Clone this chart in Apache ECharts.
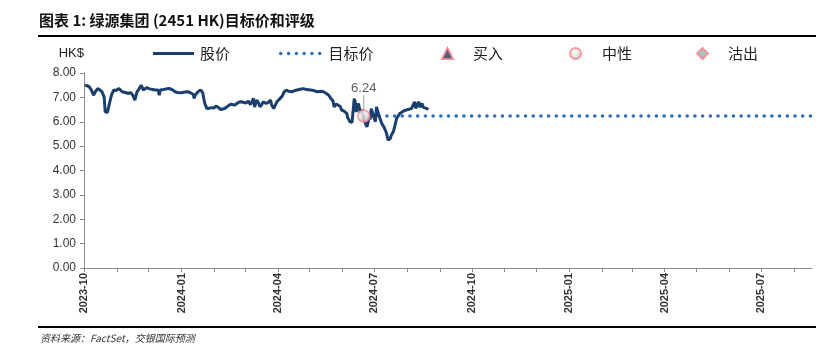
<!DOCTYPE html>
<html><head><meta charset="utf-8">
<script src="https://cdn.jsdelivr.net/npm/echarts@6/dist/echarts.min.js"></script>
<style>html,body{margin:0;padding:0;background:#fff}#c{width:824px;height:355px}</style>
</head><body><div id="c"></div>
<script>
// ---- data ----
const priceDates = [
'2023-10-02','2023-10-04','2023-10-06','2023-10-08','2023-10-10','2023-10-12','2023-10-14','2023-10-16','2023-10-18','2023-10-20',
'2023-10-21','2023-10-23','2023-10-24','2023-10-25','2023-10-27','2023-10-29','2023-10-31','2023-11-03','2023-11-04','2023-11-06',
'2023-11-09','2023-11-12','2023-11-14','2023-11-16','2023-11-17','2023-11-18','2023-11-20','2023-11-22','2023-11-24','2023-11-25',
'2023-11-26','2023-11-29','2023-12-02','2023-12-05','2023-12-07','2023-12-10','2023-12-11','2023-12-12','2023-12-15','2023-12-18',
'2023-12-21','2023-12-24','2023-12-26','2023-12-28','2024-01-01','2024-01-04','2024-01-07','2024-01-09','2024-01-12','2024-01-13',
'2024-01-14','2024-01-15','2024-01-17','2024-01-19','2024-01-21','2024-01-22','2024-01-23','2024-01-25','2024-01-27','2024-01-29',
'2024-01-31','2024-02-03','2024-02-05','2024-02-07','2024-02-10','2024-02-12','2024-02-15','2024-02-17','2024-02-18','2024-02-20',
'2024-02-21','2024-02-24','2024-02-26','2024-02-28','2024-03-02','2024-03-04','2024-03-05','2024-03-06','2024-03-07','2024-03-09',
'2024-03-10','2024-03-12','2024-03-14','2024-03-15','2024-03-17','2024-03-18','2024-03-21','2024-03-23','2024-03-25','2024-03-26',
'2024-03-28','2024-03-29','2024-03-31','2024-04-03','2024-04-05','2024-04-07','2024-04-09','2024-04-11','2024-04-14','2024-04-17',
'2024-04-19','2024-04-22','2024-04-25','2024-04-28','2024-05-02','2024-05-05','2024-05-08','2024-05-11','2024-05-14','2024-05-16',
'2024-05-19','2024-05-21','2024-05-23','2024-05-24','2024-05-26','2024-05-28','2024-05-30','2024-05-31','2024-06-02','2024-06-05',
'2024-06-06','2024-06-08','2024-06-10','2024-06-11','2024-06-12','2024-06-13','2024-06-14','2024-06-16','2024-06-18','2024-06-19',
'2024-06-20','2024-06-21','2024-06-24','2024-06-25','2024-06-26','2024-06-27','2024-06-28','2024-07-02','2024-07-03','2024-07-04',
'2024-07-05','2024-07-08','2024-07-10','2024-07-12','2024-07-14','2024-07-16','2024-07-17','2024-07-18','2024-07-19','2024-07-20',
'2024-07-22','2024-07-25','2024-07-29','2024-07-31','2024-08-05','2024-08-06','2024-08-08','2024-08-09','2024-08-12','2024-08-13',
'2024-08-15','2024-08-16','2024-08-19','2024-08-21'
];
const priceValues = [
7.50,7.48,7.43,7.30,7.09,7.25,7.36,7.30,7.23,7.02,
6.41,6.37,6.45,6.75,7.10,7.30,7.28,7.36,7.30,7.23,
7.20,7.16,7.20,7.09,7.15,6.89,7.23,7.35,7.50,7.40,
7.30,7.40,7.35,7.32,7.30,7.30,7.09,7.30,7.32,7.35,
7.36,7.30,7.23,7.20,7.19,7.22,7.23,7.20,7.13,6.96,
7.10,7.16,7.25,7.30,7.20,6.96,6.75,6.54,6.55,6.58,
6.56,6.64,6.58,6.50,6.53,6.58,6.68,6.72,6.75,6.68,
6.70,6.80,6.82,6.80,6.77,6.85,6.89,6.70,6.75,6.96,
6.60,6.89,6.75,6.61,6.72,6.82,6.75,6.80,6.89,6.70,
6.54,6.62,6.82,6.95,7.05,7.23,7.30,7.25,7.23,7.28,
7.30,7.33,7.36,7.32,7.30,7.28,7.23,7.25,7.23,7.18,
7.09,6.95,6.85,6.61,6.72,6.68,6.62,6.48,6.45,6.34,
6.15,6.00,5.98,5.96,6.95,6.80,6.40,6.75,6.34,6.50,
6.30,6.10,5.79,5.95,6.20,6.10,6.54,6.00,6.61,6.55,
6.30,5.93,5.79,5.59,5.25,5.31,5.45,5.40,5.60,5.66,
6.13,6.34,6.45,6.48,6.54,6.60,6.82,6.55,6.82,6.60,
6.75,6.60,6.55,6.50
];
const targetDates = ['2024-06-21', '2025-08-18'];
const targetValues = [6.24, 6.24];
const ratingDates = ['2024-06-21'];
const ratingValues = [6.24];
const axisStart = '2023-10-01';
const axisEnd = '2025-08-18';
const yMin = 0, yMax = 8, yStep = 1;
const seriesNames = ['股价', '目标价', '买入', '中性', '沽出'];
const titleText = '图表 1: 绿源集团 (2451 HK)目标价和评级';
const sourceText = '资料来源：FactSet，交银国际预测';

// ---- chart ----
const DAY = 86400000;
const zip = (d, v) => d.map((x, i) => [x, v[i]]);
const cjk = '"Noto Sans CJK SC", sans-serif';
const legendText = { fontSize: 15, color: '#222', fontFamily: cjk };
const pink = '#ff7f86';
// dotted legend icon: row of six round dots
let dotPath = 'path://';
for (let i = 0; i < 6; i++) {
  const x = i * 7.8;
  dotPath += 'M' + x + ',1.75a1.75,1.75 0 1,0 3.5,0a1.75,1.75 0 1,0 -3.5,0z';
}
const LT = 46;

const chart = echarts.init(document.getElementById('c'));
chart.setOption({
  animation: false,
  backgroundColor: '#fff',
  title: {
    text: titleText, left: 39, top: 13, padding: 0,
    textStyle: { fontSize: 15, fontWeight: 'bold', color: '#111', fontFamily: cjk }
  },
  graphic: [
    { type: 'line', shape: { x1: 38, y1: 36, x2: 816, y2: 36 }, style: { stroke: '#000', lineWidth: 2 } },
    { type: 'line', shape: { x1: 38, y1: 327, x2: 816, y2: 327 }, style: { stroke: '#000', lineWidth: 2 } },
    { type: 'text', left: 40, top: 333, style: { text: sourceText, font: 'italic 10px "Noto Sans CJK SC"', fill: '#333' } }
  ],
  legend: [
    { data: [{ name: seriesNames[0], icon: 'rect' }], left: 153, top: LT, padding: 0, itemWidth: 41, itemHeight: 3, selectedMode: false, textStyle: Object.assign({ padding: [0, 0, 0, 1] }, legendText) },
    { data: [{ name: seriesNames[1], icon: dotPath }], left: 279, top: LT, padding: 0, itemWidth: 42.5, itemHeight: 3.5, selectedMode: false, textStyle: Object.assign({ padding: [0, 0, 0, 2] }, legendText) },
    { data: [seriesNames[2]], left: 441, top: LT, padding: 0, itemWidth: 11, itemHeight: 11, selectedMode: false, textStyle: Object.assign({ padding: [0, 0, 0, 15] }, legendText) },
    { data: [seriesNames[3]], left: 569, top: LT, padding: 0, itemWidth: 11, itemHeight: 11, selectedMode: false, textStyle: Object.assign({ padding: [0, 0, 0, 16] }, legendText) },
    { data: [seriesNames[4]], left: 696, top: LT, padding: 0, itemWidth: 11, itemHeight: 11, selectedMode: false, textStyle: Object.assign({ padding: [0, 0, 0, 15] }, legendText) }
  ],
  grid: { left: 84, right: 12, top: 73, bottom: 87 },
  xAxis: {
    type: 'time', min: axisStart, max: axisEnd,
    minInterval: 28 * DAY, maxInterval: 31 * DAY,
    splitLine: { show: false },
    axisLine: { lineStyle: { color: '#8c8c8c', width: 1 } },
    axisTick: { show: true, length: 4, lineStyle: { color: '#8c8c8c' } },
    axisLabel: {
      rotate: 90, margin: 5, fontSize: 11, color: '#333', fontWeight: 'bold',
      fontFamily: '"Liberation Sans", Arial, sans-serif', hideOverlap: false,
      formatter: function (v) {
        const d = new Date(v); const m = d.getMonth();
        if (m % 3 !== 0) return '';
        return d.getFullYear() + '-' + String(m + 1).padStart(2, '0');
      }
    }
  },
  yAxis: {
    type: 'value', min: yMin, max: yMax, interval: yStep,
    name: 'HK$', nameLocation: 'end', nameGap: 20,
    nameTextStyle: { fontSize: 13, color: '#222', align: 'right', verticalAlign: 'middle', fontFamily: '"Liberation Sans", Arial, sans-serif' },
    splitLine: { show: false },
    axisLine: { show: true, lineStyle: { color: '#8c8c8c', width: 1 } },
    axisTick: { show: true, length: 4, lineStyle: { color: '#8c8c8c' } },
    axisLabel: { fontSize: 12, color: '#333', margin: 8, fontFamily: '"Liberation Sans", Arial, sans-serif', formatter: v => v.toFixed(2) }
  },
  series: [
    {
      name: seriesNames[1], type: 'line', symbol: 'none', z: 2,
      data: zip(targetDates, targetValues),
      lineStyle: { color: '#2f6db5', width: 3.5, type: [0.1, 7.6], cap: 'round' },
      itemStyle: { color: '#2f6db5' }
    },
    {
      name: seriesNames[0], type: 'line', symbol: 'none', z: 3,
      data: zip(priceDates, priceValues),
      lineStyle: { color: '#1b3f6d', width: 3 },
      itemStyle: { color: '#1b3f6d' }
    },
    {
      name: seriesNames[2], type: 'scatter', symbol: 'triangle', symbolSize: 11, data: [],
      itemStyle: { color: '#1f3864', borderColor: pink, borderWidth: 1.5 }
    },
    {
      name: seriesNames[3], type: 'scatter', symbol: 'circle', symbolSize: 12, z: 5,
      data: zip(ratingDates, ratingValues),
      itemStyle: {
        color: { type: 'radial', x: 0.4, y: 0.35, r: 0.75, colorStops: [{ offset: 0, color: '#ffffff' }, { offset: 1, color: '#b8b8b8' }] },
        borderColor: pink, borderWidth: 1.5
      },
      label: { show: true, position: 'top', distance: 2, fontSize: 13, color: '#333', fontFamily: '"Liberation Sans", Arial, sans-serif', formatter: p => p.value[1].toFixed(2) },
      labelLayout: { dy: -12 },
      labelLine: { show: true, lineStyle: { color: '#a0a0a0', width: 1 } }
    },
    {
      name: seriesNames[4], type: 'scatter', symbol: 'diamond', symbolSize: 11, data: [],
      itemStyle: { color: '#8fb8bd', borderColor: pink, borderWidth: 1.5 }
    }
  ]
});
</script>
</body></html>
